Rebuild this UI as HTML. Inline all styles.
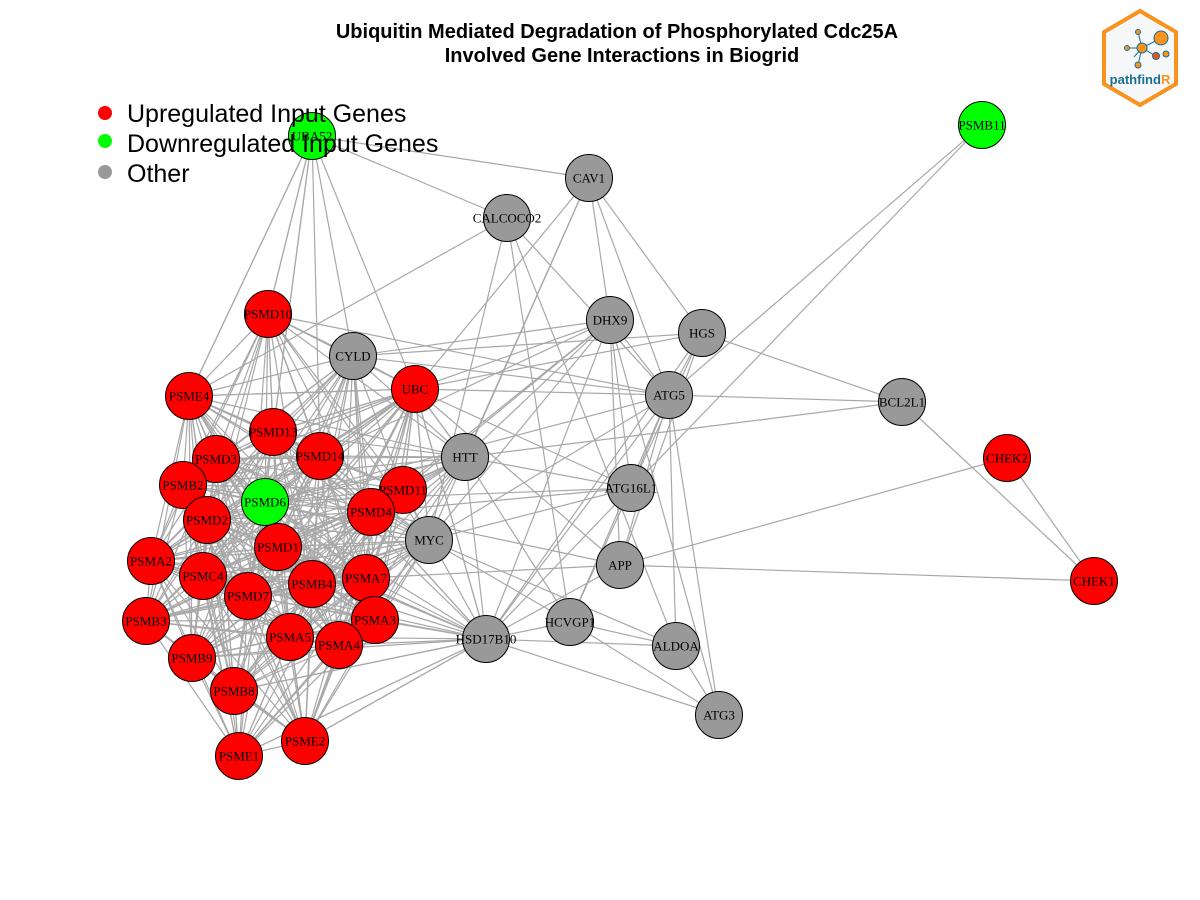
<!DOCTYPE html>
<html><head><meta charset="utf-8"><style>
body{margin:0;background:#fff;}
svg{display:block;}
</style></head><body>
<svg id="chart" width="1200" height="900" xmlns="http://www.w3.org/2000/svg">
<rect width="1200" height="900" fill="#fff"/>
<text x="617" y="38" text-anchor="middle" font-family="Liberation Sans, sans-serif" font-weight="bold" font-size="20">Ubiquitin Mediated Degradation of Phosphorylated Cdc25A</text>
<text x="622" y="62" text-anchor="middle" font-family="Liberation Sans, sans-serif" font-weight="bold" font-size="20">Involved Gene Interactions in Biogrid</text>
<g id="edges"></g>
<g id="nodes"></g>
<g font-family="Liberation Sans, sans-serif" font-size="25">
<circle cx="105" cy="113" r="7" fill="#ff0000"/><text x="127" y="122">Upregulated Input Genes</text>
<circle cx="105" cy="141" r="7" fill="#00ff00"/><text x="127" y="152">Downregulated Input Genes</text>
<circle cx="105" cy="172" r="7" fill="#999"/><text x="127" y="182">Other</text>
</g>
<g>
<polygon points="1140,11 1176,32 1176,84 1140,105 1104,84 1104,32" fill="#f5f7f9" stroke="#f7931e" stroke-width="4"/>
<g stroke="#1a6f8f" stroke-width="1">
<line x1="1142" y1="48" x2="1161" y2="38"/><line x1="1142" y1="48" x2="1127" y2="48"/><line x1="1142" y1="48" x2="1138" y2="32"/><line x1="1142" y1="48" x2="1156" y2="56"/><line x1="1142" y1="48" x2="1138" y2="65"/><line x1="1142" y1="48" x2="1134" y2="57"/>
</g>
<circle cx="1161" cy="38" r="7" fill="#f7931e" stroke="#1a6f8f"/>
<circle cx="1142" cy="48" r="5" fill="#f7931e" stroke="#1a6f8f"/>
<circle cx="1156" cy="56" r="3.5" fill="#e8541e" stroke="#1a6f8f"/>
<circle cx="1138" cy="65" r="3" fill="#f7931e" stroke="#1a6f8f"/>
<circle cx="1127" cy="48" r="2.5" fill="#f7931e" stroke="#1a6f8f"/>
<circle cx="1138" cy="32" r="2.5" fill="#f7931e" stroke="#1a6f8f"/>
<circle cx="1166" cy="54" r="3" fill="#f7931e" stroke="#1a6f8f"/>
<text x="1140" y="84" text-anchor="middle" font-family="Liberation Sans, sans-serif" font-weight="bold" font-size="13" fill="#1a6f8f">pathfind<tspan fill="#f7931e">R</tspan></text>
</g>
</svg>
<script>
const geneNames=["UBA52","PSMB11","CAV1","CALCOCO2","PSMD10","DHX9","HGS","CYLD","UBC","ATG5","BCL2L1","PSME4","PSMD13","PSMD3","PSMD14","HTT","CHEK2","PSMB2","ATG16L1","PSMD11","PSMD6","PSMD4","PSMD2","MYC","PSMD1","PSMA2","APP","PSMC4","PSMA7","PSMB4","CHEK1","PSMD7","PSMB3","PSMA3","HCVGP1","PSMA5","HSD17B10","PSMA4","ALDOA","PSMB9","PSMB8","ATG3","PSME2","PSME1"];
const geneX=[312,982,589,507,268,610,702,353,415,669,902,189,273,216,320,465,1007,183,631,403,265,371,207,429,278,151,620,203,366,312,1094,248,146,375,570,290,486,339,676,192,234,719,305,239];
const geneY=[136,125,178,218,314,320,333,356,389,395,402,396,432,459,456,457,458,485,488,490,502,512,520,540,547,561,565,576,578,584,581,596,621,620,622,637,639,645,646,658,691,715,741,756];
const geneType=["down","down","other","other","up","other","other","other","up","other","other","up","up","up","up","other","up","up","other","up","down","up","up","other","up","up","other","up","up","up","up","up","up","up","other","up","other","up","other","up","up","other","up","up"];
const proteasome=["PSMD10","PSME4","PSMD13","PSMD3","PSMD14","PSMB2","PSMD11","PSMD6","PSMD4","PSMD2","PSMD1","PSMA2","PSMC4","PSMA7","PSMB4","PSMD7","PSMB3","PSMA3","PSMA5","PSMA4","PSMB9","PSMB8","PSME2","PSME1","UBC"];
const hubs=["UBC","HSD17B10","MYC","HTT","CYLD","UBA52"];
const extraEdges=[["UBA52","CAV1"],["UBA52","CALCOCO2"],["UBA52","CYLD"],["UBA52","PSME4"],["UBA52","PSMD13"],["UBA52","PSMD14"],["UBA52","PSMD10"],
["PSMB11","ATG16L1"],["PSMB11","ATG5"],["CAV1","DHX9"],["CAV1","HGS"],["CAV1","ATG5"],["CAV1","MYC"],["CAV1","UBC"],["CAV1","HTT"],
["CALCOCO2","PSME4"],["CALCOCO2","ATG5"],["CALCOCO2","HCVGP1"],["CALCOCO2","ALDOA"],["CALCOCO2","MYC"],
["DHX9","UBC"],["DHX9","CYLD"],["DHX9","HTT"],["DHX9","ATG5"],["DHX9","ATG16L1"],["DHX9","APP"],["DHX9","MYC"],["DHX9","PSMD14"],["DHX9","HSD17B10"],["DHX9","ATG3"],["DHX9","PSMD11"],["DHX9","PSMD4"],
["HGS","CYLD"],["HGS","UBC"],["HGS","ATG5"],["HGS","ATG16L1"],["HGS","HSD17B10"],["HGS","APP"],["HGS","BCL2L1"],
["ATG5","BCL2L1"],["ATG5","PSMD10"],["ATG5","CYLD"],["ATG5","UBC"],["ATG5","ATG16L1"],["ATG5","APP"],["ATG5","ALDOA"],["ATG5","ATG3"],["ATG5","HSD17B10"],["ATG5","HCVGP1"],["ATG5","MYC"],["ATG5","PSMD6"],
["BCL2L1","CHEK1"],["BCL2L1","HTT"],["CHEK2","CHEK1"],["CHEK2","APP"],["APP","CHEK1"],["APP","HSD17B10"],["APP","UBC"],["APP","PSMD4"],["APP","PSMA7"],
["UBC","ATG16L1"],["UBC","HTT"],["UBC","MYC"],["UBC","HSD17B10"],["HSD17B10","ALDOA"],["HSD17B10","ATG3"],["HSD17B10","HCVGP1"],["HTT","HSD17B10"],["HTT","HCVGP1"],["ALDOA","ATG3"],["HCVGP1","ALDOA"],["HCVGP1","ATG3"],
["ATG16L1","HSD17B10"],["ATG16L1","MYC"],["ATG16L1","PSMD6"],["ATG16L1","HCVGP1"],["ATG16L1","PSMD4"],["MYC","HCVGP1"],["MYC","ALDOA"],["HTT","ATG16L1"],["CYLD","PSMD10"],["CYLD","HTT"],["HSD17B10","PSME2"],["HSD17B10","PSME1"],["HSD17B10","PSMB8"]];
const NS="http://www.w3.org/2000/svg";
const idx=n=>geneNames.indexOf(n);
const eg=document.getElementById("edges"), ng=document.getElementById("nodes");
const pairs=[];
for(let i=0;i<proteasome.length;i++)for(let j=i+1;j<proteasome.length;j++){
  const a=idx(proteasome[i]),b=idx(proteasome[j]);
  if(Math.hypot(geneX[a]-geneX[b],geneY[a]-geneY[b])<300)pairs.push([proteasome[i],proteasome[j]]);}
hubs.forEach(h=>proteasome.forEach(p=>{if(h!==p){const a=idx(h),b=idx(p);if(Math.hypot(geneX[a]-geneX[b],geneY[a]-geneY[b])<320)pairs.push([h,p]);}}));
extraEdges.forEach(e=>pairs.push(e));
pairs.forEach(e=>{const a=idx(e[0]),b=idx(e[1]);if(a<0||b<0)return;
  const l=document.createElementNS(NS,"line");
  l.setAttribute("x1",geneX[a]);l.setAttribute("y1",geneY[a]);l.setAttribute("x2",geneX[b]);l.setAttribute("y2",geneY[b]);
  l.setAttribute("stroke","#a8a8a8");l.setAttribute("stroke-width","1.2");
  
  
  eg.appendChild(l);});
const col={up:"#ff0000",down:"#00ff00",other:"#999999"};
geneNames.forEach((n,i)=>{
  const g=document.createElementNS(NS,"g");
  
  
  const c=document.createElementNS(NS,"circle");
  c.setAttribute("cx",geneX[i]);c.setAttribute("cy",geneY[i]);c.setAttribute("r",23.5);
  c.setAttribute("fill",col[geneType[i]]);c.setAttribute("stroke","#000");c.setAttribute("stroke-width","1");
  g.appendChild(c);
  const t=document.createElementNS(NS,"text");
  t.setAttribute("x",geneX[i]);t.setAttribute("y",geneY[i]+4.5);t.setAttribute("text-anchor","middle");
  t.setAttribute("font-family","Liberation Serif, serif");t.setAttribute("font-size","13");
  t.textContent=n;g.appendChild(t);ng.appendChild(g);});
</script>
</body></html>
